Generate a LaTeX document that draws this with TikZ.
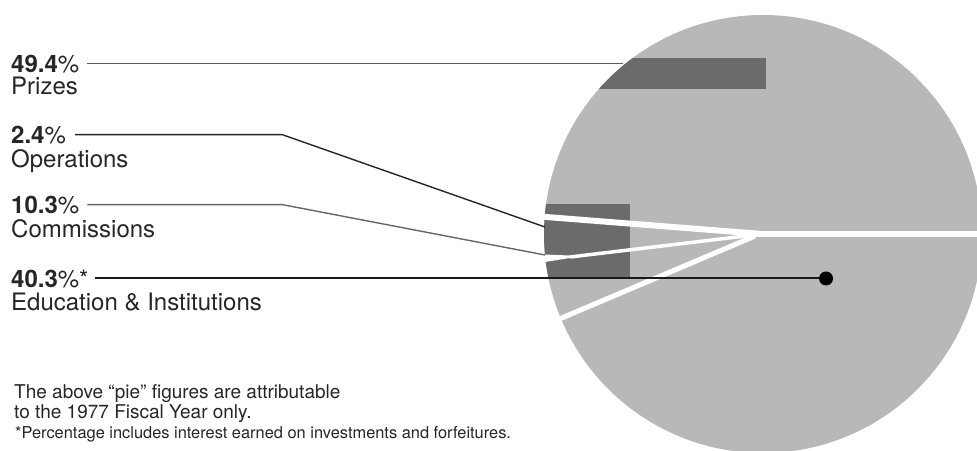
\documentclass[tikz,border=0pt]{standalone}
\usepackage{fontspec}
\setmainfont{TeX Gyre Heros}
\definecolor{pielight}{gray}{0.72}
\definecolor{piedark}{gray}{0.42}
\begin{document}
\begin{tikzpicture}[x=1pt,y=-1pt,
		pct/.style={anchor = base west, inner sep=0pt, font=\fontsize{24}{24}\selectfont, text=black!85},
		note/.style={anchor = base west, inner sep=0pt, text=black!85},
		leader/.style={line width=1.4pt},
		gap/.style={white, line width=#1},
		dot/.style={circle, fill=black, inner sep=0pt, minimum size=14pt},
	]
		\useasboundingbox (0,0) rectangle (977,450);
		\clip (0,0) rectangle (977,450);
		\coordinate (ctr) at (763,234);
		\coordinate (apex) at (762,234);
		\fill[pielight] (ctr) circle (219pt);
		\begin{scope}
			\clip (ctr) circle (219pt);
			\fill[piedark] (560,58) rectangle (766,89);
			\fill[piedark] (540,204) rectangle (630,277);
		\end{scope}
		\draw[gap=6pt] (apex) -- (980,234);
		\draw[gap=6pt] (apex) -- (540,216.5);
		\draw[gap=3.5pt] (apex) -- (570,257);
		\fill[white] (545,254.5) -- (582,256) -- (545,262) -- cycle;
		\draw[gap=5pt] (755,236) -- (550,323);
		\node[pct] (p1) at (11,72) {\textbf{49.4}\%};
		\node[pct] (n1) at (11,94) {Prizes};
		\node[pct] (p2) at (11,143) {\textbf{2.4}\%};
		\node[pct] (n2) at (11,167) {Operations};
		\node[pct] (p3) at (11,213) {\textbf{10.3}\%};
		\node[pct] (n3) at (11,237) {Commissions};
		\node[pct] (p4) at (11,287) {\textbf{40.3}\%*};
		\node[pct] (n4) at (11,310) {Education \& Institutions};
		\node[note, font=\fontsize{19}{19}\selectfont] (fn1) at (14,398) {The above “pie” figures are attributable};
		\node[note, font=\fontsize{19}{19}\selectfont] (fn2) at (14,418) {to the 1977 Fiscal Year only.};
		\node[note, font=\fontsize{16.4}{16}\selectfont] (fn3) at (15,438) {*Percentage includes interest earned on investments and forfeitures.};
		\coordinate (przend) at (623,0);
		\coordinate (bend) at (282,0);
		\coordinate (opsend) at (545,227);
		\coordinate (comend) at (545,255);
		\coordinate (edux) at (826,0);
		\node[dot] (edudot) at (p4.east -| edux) {};
		\draw[leader, draw=black!65] ([xshift=8pt]p1.east) -- (p1.east -| przend);
		\draw[leader, draw=black!85] ([xshift=9pt]p2.east) -- (p2.east -| bend) -- (opsend);
		\draw[leader, draw=black!60] ([xshift=8pt]p3.east) -- (p3.east -| bend) -- (comend);
		\draw[leader, line width=2pt, draw=black!90] ([xshift=6pt]p4.east) -- (edudot);
	\end{tikzpicture}
\end{document}
